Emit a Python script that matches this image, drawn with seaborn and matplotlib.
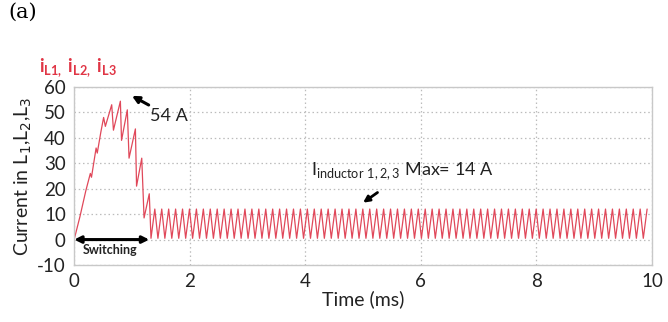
import numpy as np
import pandas as pd
import matplotlib
matplotlib.use("Agg")
import matplotlib.pyplot as plt
import seaborn as sns

# switching transient (time in ms, current in A)
transient_t = [0.00, 0.10, 0.20, 0.28, 0.30, 0.38, 0.40, 0.46, 0.51, 0.54, 0.65, 0.68,
               0.80, 0.82, 0.92, 0.95, 1.06, 1.08, 1.17, 1.21, 1.30, 1.33]
transient_i = [0.0, 9.0, 19.0, 26.0, 24.5, 36.0, 34.0, 42.0, 48.0, 44.5, 53.0, 43.0,
               54.4, 39.0, 51.0, 32.0, 43.5, 21.0, 32.0, 8.5, 18.0, 0.5]

# steady-state ripple after switching: one cycle (low, high), repeated
ss_start = 1.33
ss_end = 10.0
ss_period = 0.12
ss_cycle_i = [0.5, 12.0]

n_cycles = int((ss_end - ss_start) / ss_period)
starts = ss_start + ss_period * np.arange(n_cycles)
ss_t = np.column_stack([starts, starts + ss_period * 0.55]).ravel()[1:]
ss_i = np.tile(ss_cycle_i, n_cycles)[1:]

df = pd.DataFrame({
    "t": np.concatenate([transient_t, ss_t]),
    "i": np.concatenate([transient_i, ss_i]),
})

sns.set_theme(style="white")
plt.rcParams["font.family"] = ["Lato", "DejaVu Sans"]
plt.rcParams["axes.unicode_minus"] = False

fig = plt.figure(figsize=(6.68, 3.22), dpi=100)
ax = fig.add_axes([0.111, 0.177, 0.865, 0.553])

sns.lineplot(data=df, x="t", y="i", ax=ax, color="#e0485a", linewidth=0.9,
             estimator=None, sort=False)

ax.set_xlim(0, 10)
ax.set_ylim(-10, 60)
ax.set_xticks([0, 2, 4, 6, 8, 10])
ax.set_yticks([-10, 0, 10, 20, 30, 40, 50, 60])
ax.tick_params(axis="both", labelsize=13.5, length=0, colors="#222222", pad=6)
ax.grid(True, linestyle=(0, (1.2, 2.2)), color="#bcbcbc", linewidth=0.9)
for s in ax.spines.values():
    s.set_color("#c8c8c8")
    s.set_linewidth(1.0)

ax.set_xlabel("Time (ms)", fontsize=14, color="#222222", labelpad=0)
ax.set_ylabel("Current in L$_1$,L$_2$,L$_3$", fontsize=14, color="#222222", labelpad=2)

# annotations
ax.annotate("54 A", xy=(1.0, 56.5), xytext=(1.32, 46.5), fontsize=13, color="#222222",
            arrowprops=dict(arrowstyle="-|>", color="black", lw=2.2, mutation_scale=10,
                            shrinkA=0, shrinkB=0))
ax.text(4.1, 25.5, r"I$_{\mathregular{inductor\ 1,2,3}}$ Max= 14 A", fontsize=13, color="#222222")
ax.annotate("", xy=(5.0, 14.5), xytext=(5.25, 18.5),
            arrowprops=dict(arrowstyle="-|>", color="black", lw=2.0, mutation_scale=9,
                            shrinkA=0, shrinkB=0))
ax.annotate("", xy=(0.0, 0.0), xytext=(1.3, 0.0),
            arrowprops=dict(arrowstyle="<|-|>", color="black", lw=2.2, mutation_scale=10,
                            shrinkA=0, shrinkB=0))
ax.text(0.62, -5.8, "Switching", fontsize=9, fontweight="bold", ha="center", color="#222222")

fig.text(0.012, 0.945, "(a)", fontsize=15, family="DejaVu Serif", color="black")
fig.text(0.058, 0.775, r"i$_{\mathregular{L1,}}$ i$_{\mathregular{L2,}}$ i$_{\mathregular{L3}}$",
         fontsize=13, fontweight="bold", color="#e03545")

fig.savefig("out.png", dpi=100)
